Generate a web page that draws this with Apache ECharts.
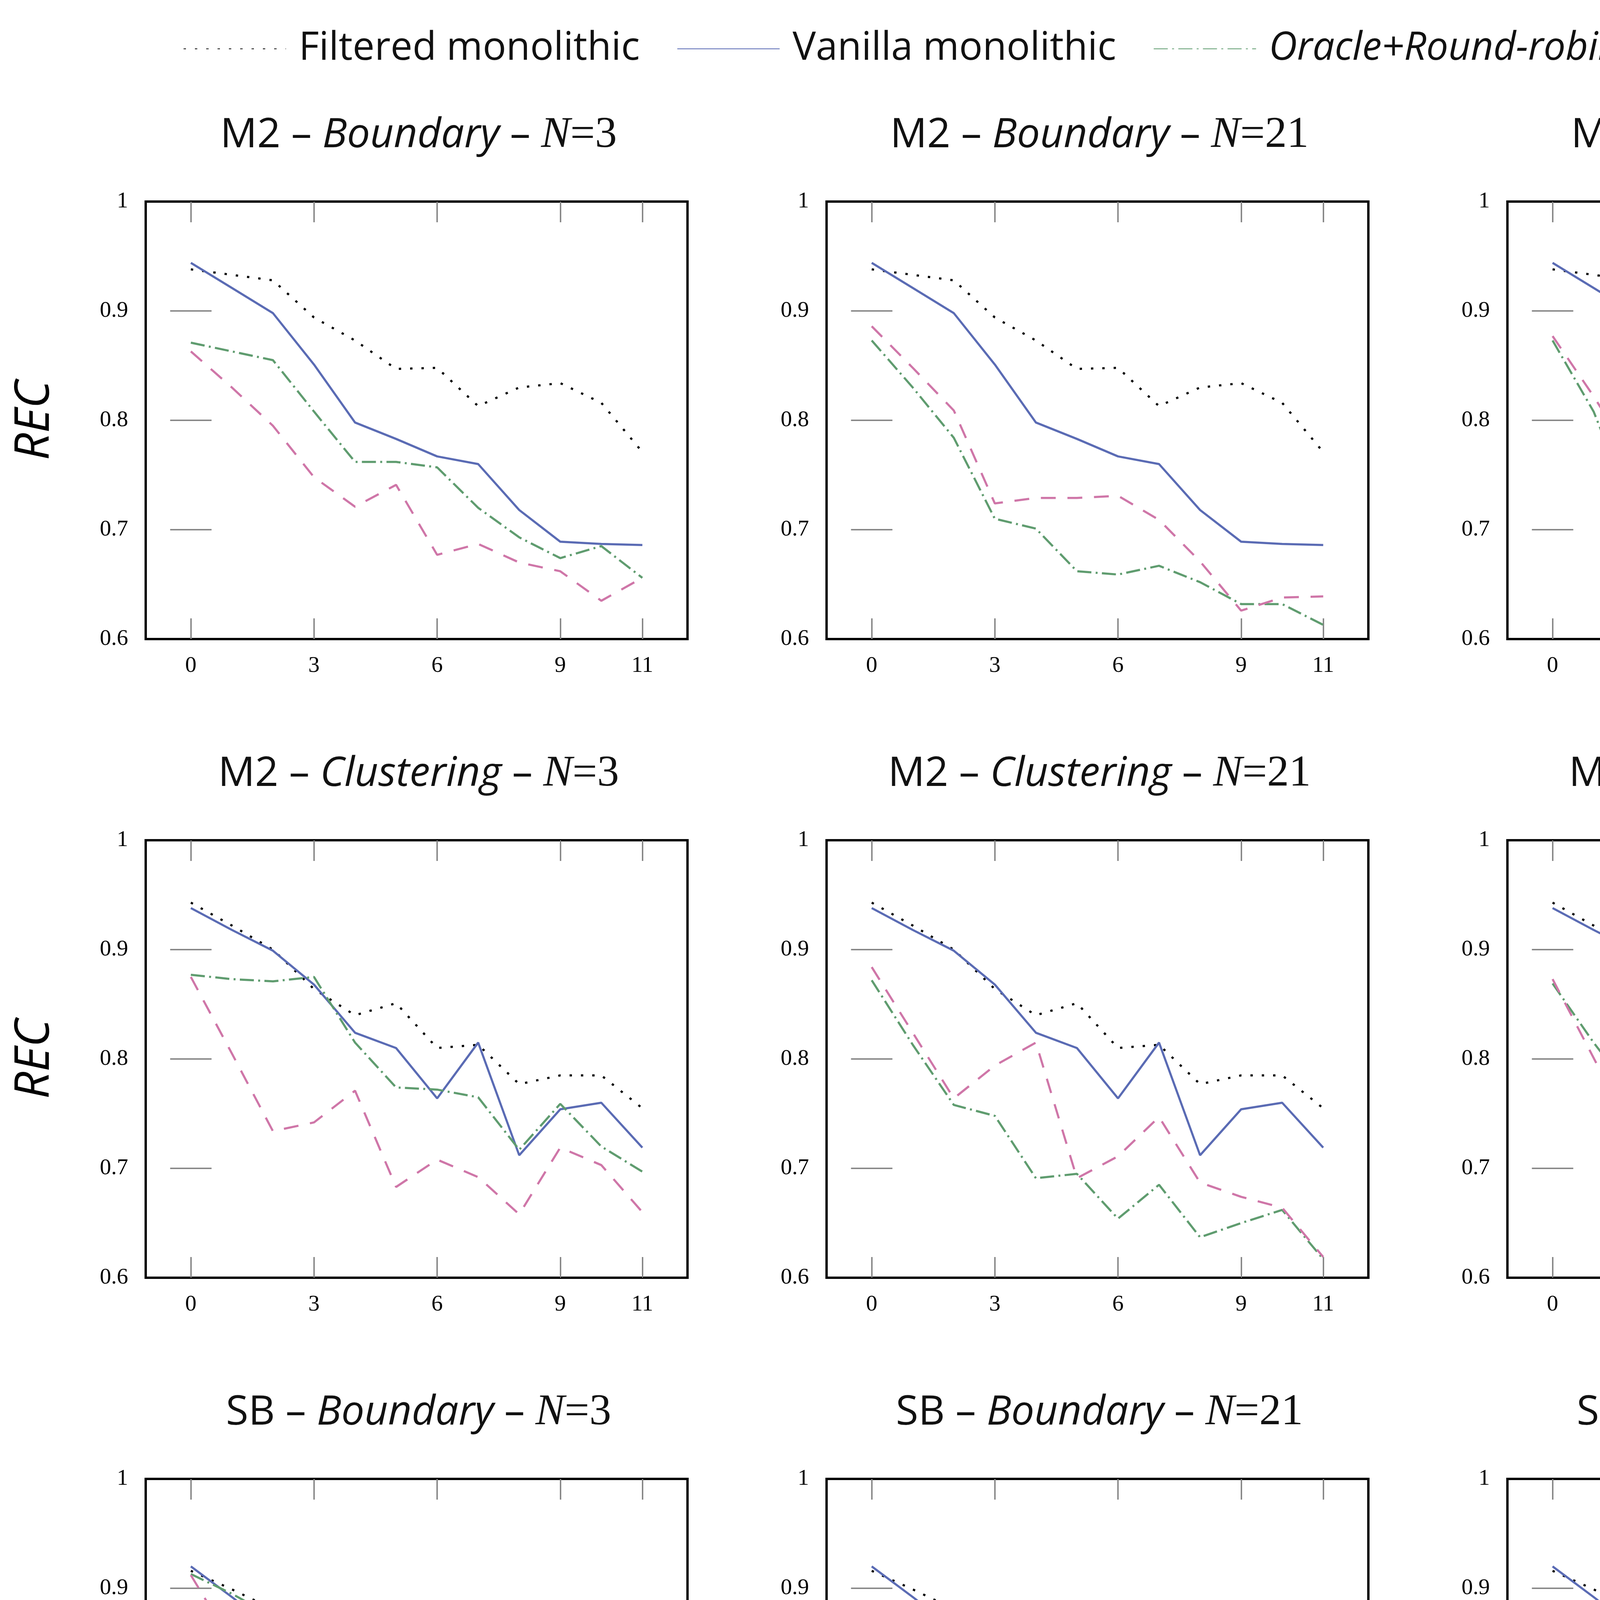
<!DOCTYPE html>
<html>
<head>
<meta charset="utf-8">
<script src="https://cdn.jsdelivr.net/npm/echarts@6/dist/echarts.min.js"></script>
<style>
html, body { margin: 0; padding: 0; background: #fff; }
#main { width: 5249px; height: 6805px; }
</style>
</head>
<body>
<div id="main"></div>
<script>
// x values and tick labels
var eps = [0, 1, 2, 3, 4, 5, 6, 7, 8, 9, 10, 11];
var xTicks = [0, 3, 6, 9, 11];
var yTicks = [0.6, 0.7, 0.8, 0.9, 1];
var names = ['Filtered monolithic', 'Vanilla monolithic', 'Oracle+Round-robin', 'Oracle+Sink'];

// monolithic baselines (same for every N)
var filtM2B = [0.938, 0.933, 0.928, 0.894, 0.873, 0.847, 0.848, 0.813, 0.830, 0.834, 0.816, 0.771];
var vanM2B  = [0.944, 0.921, 0.898, 0.851, 0.798, 0.783, 0.767, 0.760, 0.718, 0.689, 0.687, 0.686];
var filtM2C = [0.943, 0.922, 0.900, 0.864, 0.840, 0.851, 0.810, 0.813, 0.777, 0.785, 0.785, 0.755];
var vanM2C  = [0.938, 0.918, 0.899, 0.868, 0.824, 0.810, 0.764, 0.815, 0.712, 0.754, 0.760, 0.719];
var filtSBB = [0.916, 0.899, 0.881, 0.877, 0.868, 0.856, 0.844, 0.838, 0.837, 0.806, 0.798, 0.787];
var vanSBB  = [0.920, 0.892, 0.863, 0.860, 0.841, 0.824, 0.800, 0.762, 0.761, 0.725, 0.725, 0.692];
var filtSBC = [0.918, 0.919, 0.920, 0.916, 0.914, 0.908, 0.908, 0.903, 0.896, 0.886, 0.893, 0.872];
var vanSBC  = [0.915, 0.895, 0.875, 0.856, 0.849, 0.830, 0.810, 0.794, 0.787, 0.748, 0.736, 0.705];

// oracle variants per N
var rrM2B3    = [0.871, 0.863, 0.855, 0.808, 0.762, 0.762, 0.757, 0.720, 0.693, 0.674, 0.685, 0.656];
var sinkM2B3  = [0.863, 0.830, 0.795, 0.748, 0.721, 0.741, 0.677, 0.687, 0.670, 0.662, 0.635, 0.656];
var rrM2B21   = [0.873, 0.830, 0.784, 0.710, 0.701, 0.662, 0.659, 0.667, 0.652, 0.632, 0.632, 0.613];
var sinkM2B21 = [0.886, 0.848, 0.809, 0.724, 0.729, 0.729, 0.731, 0.709, 0.671, 0.626, 0.638, 0.639];
var rrM2B33   = [0.873, 0.808, 0.714, 0.729, 0.691, 0.655, 0.626, 0.629, 0.612, 0.608, 0.607, 0.565];
var sinkM2B33 = [0.877, 0.822, 0.762, 0.733, 0.690, 0.706, 0.631, 0.673, 0.634, 0.631, 0.628, 0.638];

var rrM2C3    = [0.877, 0.873, 0.871, 0.875, 0.815, 0.774, 0.772, 0.765, 0.717, 0.759, 0.720, 0.697];
var sinkM2C3  = [0.875, 0.805, 0.734, 0.742, 0.771, 0.683, 0.708, 0.692, 0.658, 0.719, 0.703, 0.660];
var rrM2C21   = [0.872, 0.813, 0.758, 0.748, 0.691, 0.695, 0.654, 0.685, 0.637, 0.650, 0.662, 0.617];
var sinkM2C21 = [0.884, 0.824, 0.764, 0.794, 0.815, 0.691, 0.711, 0.747, 0.687, 0.674, 0.664, 0.619];
var rrM2C33   = [0.869, 0.815, 0.766, 0.756, 0.704, 0.734, 0.700, 0.573, 0.668, 0.644, 0.585, 0.570];
var sinkM2C33 = [0.873, 0.801, 0.728, 0.803, 0.763, 0.720, 0.676, 0.697, 0.642, 0.689, 0.610, 0.605];

var rrSBB3    = [0.913, 0.895, 0.874, 0.875, 0.849, 0.838, 0.817, 0.792, 0.774, 0.745, 0.727, 0.723];
var sinkSBB3  = [0.912, 0.850, 0.789, 0.794, 0.798, 0.798, 0.798, 0.787, 0.765, 0.780, 0.719, 0.737];
var rrSBB21   = [0.877, 0.878, 0.879, 0.864, 0.849, 0.837, 0.825, 0.806, 0.794, 0.764, 0.739, 0.715];
var sinkSBB21 = [0.883, 0.873, 0.862, 0.872, 0.848, 0.865, 0.838, 0.858, 0.827, 0.806, 0.803, 0.818];
var rrSBB33   = [0.880, 0.876, 0.871, 0.854, 0.830, 0.826, 0.815, 0.792, 0.779, 0.762, 0.733, 0.738];
var sinkSBB33 = [0.875, 0.866, 0.856, 0.862, 0.832, 0.844, 0.830, 0.821, 0.822, 0.819, 0.824, 0.813];

var rrSBC3    = [0.915, 0.888, 0.857, 0.860, 0.847, 0.813, 0.809, 0.815, 0.770, 0.742, 0.744, 0.709];
var sinkSBC3  = [0.915, 0.859, 0.803, 0.785, 0.839, 0.826, 0.798, 0.815, 0.787, 0.793, 0.788, 0.785];
var rrSBC21   = [0.885, 0.885, 0.885, 0.867, 0.863, 0.848, 0.860, 0.799, 0.783, 0.771, 0.791, 0.711];
var sinkSBC21 = [0.883, 0.873, 0.865, 0.867, 0.863, 0.865, 0.860, 0.848, 0.876, 0.856, 0.871, 0.875];
var rrSBC33   = [0.874, 0.872, 0.870, 0.855, 0.850, 0.833, 0.847, 0.795, 0.797, 0.784, 0.784, 0.767];
var sinkSBC33 = [0.873, 0.871, 0.869, 0.867, 0.863, 0.875, 0.868, 0.865, 0.859, 0.864, 0.859, 0.857];

var panels = [
    {ds: 'M2', m: 'Boundary', n: 3, lines: [filtM2B, vanM2B, rrM2B3, sinkM2B3]},
    {ds: 'M2', m: 'Boundary', n: 21, lines: [filtM2B, vanM2B, rrM2B21, sinkM2B21]},
    {ds: 'M2', m: 'Boundary', n: 33, lines: [filtM2B, vanM2B, rrM2B33, sinkM2B33]},
    {ds: 'M2', m: 'Clustering', n: 3, lines: [filtM2C, vanM2C, rrM2C3, sinkM2C3]},
    {ds: 'M2', m: 'Clustering', n: 21, lines: [filtM2C, vanM2C, rrM2C21, sinkM2C21]},
    {ds: 'M2', m: 'Clustering', n: 33, lines: [filtM2C, vanM2C, rrM2C33, sinkM2C33]},
    {ds: 'SB', m: 'Boundary', n: 3, lines: [filtSBB, vanSBB, rrSBB3, sinkSBB3]},
    {ds: 'SB', m: 'Boundary', n: 21, lines: [filtSBB, vanSBB, rrSBB21, sinkSBB21]},
    {ds: 'SB', m: 'Boundary', n: 33, lines: [filtSBB, vanSBB, rrSBB33, sinkSBB33]},
    {ds: 'SB', m: 'Clustering', n: 3, lines: [filtSBC, vanSBC, rrSBC3, sinkSBC3]},
    {ds: 'SB', m: 'Clustering', n: 21, lines: [filtSBC, vanSBC, rrSBC21, sinkSBC21]},
    {ds: 'SB', m: 'Clustering', n: 33, lines: [filtSBC, vanSBC, rrSBC33, sinkSBC33]}
];

var colLeft = [373, 2116, 3859];
var rowTop = [516, 2151, 3786, 5420];
var plotW = 1387, plotH = 1120;

var sans = 'Open Sans';
var serif = 'Liberation Serif';
var colors = ['#000000', '#5a6bb4', '#5f9c6f', '#cf76a8'];
var lineStyles = [
    {color: colors[0], width: 5.5, type: [6, 23], cap: 'butt'},
    {color: colors[1], width: 5.5, type: 'solid'},
    {color: colors[2], width: 5.5, type: [36, 11, 5, 11], cap: 'butt'},
    {color: colors[3], width: 5.5, type: [38, 30], cap: 'butt'}
];

var chart = echarts.init(document.getElementById('main'));

var grids = [], xAxes = [], yAxes = [], series = [], titles = [];
var tickLine = {color: '#808080', width: 3.5};

panels.forEach(function (p, k) {
    var r = Math.floor(k / 3), c = k % 3;
    grids.push({
        left: colLeft[c], top: rowTop[r], width: plotW, height: plotH,
        show: true, borderColor: '#000', borderWidth: 6, backgroundColor: 'transparent'
    });
    titles.push({
        text: '{a|' + p.ds + ' – }{b|' + p.m + '}{a| – }{c|N}{d|=' + p.n + '}',
        left: colLeft[c] + plotW / 2,
        top: rowTop[r] - 230,
        textAlign: 'center',
        textStyle: {
            fontWeight: 'normal',
            rich: {
                a: {fontFamily: sans, fontWeight: 'normal', fontSize: 105, color: '#111'},
                b: {fontFamily: sans, fontWeight: 'normal', fontStyle: 'italic', fontSize: 105, color: '#111'},
                c: {fontFamily: serif, fontWeight: 'normal', fontStyle: 'italic', fontSize: 112, color: '#111'},
                d: {fontFamily: serif, fontWeight: 'normal', fontSize: 112, color: '#111'}
            }
        }
    });
    var xBase = {
        gridIndex: k, type: 'value', min: -1.1, max: 12.1,
        axisLine: {show: false}, splitLine: {show: false},
        axisTick: {show: true, inside: true, length: 53, customValues: xTicks, lineStyle: tickLine}
    };
    xAxes.push(Object.assign({}, xBase, {
        position: 'bottom',
        axisLabel: {customValues: xTicks, margin: 40, fontFamily: serif, fontSize: 58, color: '#000'},
        name: r === 3 ? 'ϵ' : '',
        nameLocation: 'middle', nameGap: 140,
        nameTextStyle: {fontFamily: serif, fontStyle: 'italic', fontSize: 96, color: '#000'}
    }));
    xAxes.push(Object.assign({}, xBase, {position: 'top', axisLabel: {show: false}}));
    var yBase = {
        gridIndex: k, type: 'value', min: 0.6, max: 1,
        axisLine: {show: false}, splitLine: {show: false},
        axisTick: {show: true, inside: true, length: 53, customValues: [0.7, 0.8, 0.9], lineStyle: tickLine}
    };
    yAxes.push(Object.assign({}, yBase, {
        position: 'left',
        axisLabel: {
            customValues: yTicks, margin: 45, fontFamily: serif, fontSize: 58, color: '#000',
            formatter: function (v) { return Math.abs(v - 1) < 1e-9 ? '1' : v.toFixed(1); }
        },
        name: c === 0 ? 'REC' : '',
        nameLocation: 'middle', nameGap: 222, nameRotate: 90,
        nameTextStyle: {fontFamily: sans, fontStyle: 'italic', fontSize: 122, color: '#000'}
    }));
    yAxes.push(Object.assign({}, yBase, {position: 'right', axisLabel: {show: false}}));

    p.lines.forEach(function (vals, s) {
        series.push({
            name: names[s],
            type: 'line',
            xAxisIndex: 2 * k,
            yAxisIndex: 2 * k,
            data: eps.map(function (e, i) { return [e, vals[i]]; }),
            symbol: 'none',
            clip: true,
            itemStyle: {color: colors[s]},
            lineStyle: lineStyles[s],
            z: 2 + s
        });
    });
});

var option = {
    backgroundColor: '#fff',
    animation: false,
    title: titles,
    legend: {
        left: 464, top: 70,
        itemWidth: 262, itemHeight: 20, itemGap: 95,
        itemStyle: {opacity: 0},
        textStyle: {fontFamily: sans, fontSize: 100, color: '#111', padding: [0, 0, 0, 28]},
        data: [
            {name: names[0]},
            {name: names[1]},
            {name: names[2], textStyle: {fontStyle: 'italic'}},
            {name: names[3], textStyle: {fontStyle: 'italic'}}
        ]
    },
    grid: grids,
    xAxis: xAxes,
    yAxis: yAxes,
    series: series
};
chart.setOption(option);
</script>
</body>
</html>
